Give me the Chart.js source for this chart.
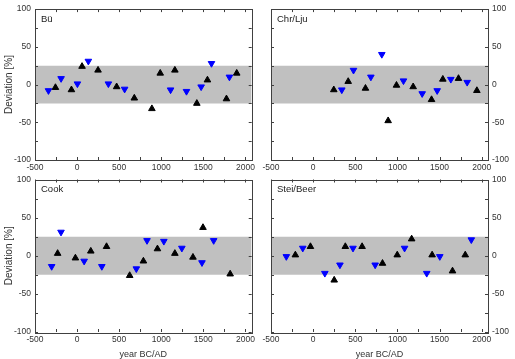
<!DOCTYPE html>
<html>
<head>
<meta charset="utf-8">
<script src="https://cdn.jsdelivr.net/npm/chart.js@4.4.0/dist/chart.umd.min.js"></script>
<style>
html, body { margin: 0; padding: 0; background: #fff; }
#wrap { position: relative; width: 515px; height: 359px; overflow: hidden; }
canvas { position: absolute; }
</style>
</head>
<body>
<div id="wrap">
    <canvas id="bu" width="258" height="175" style="left:0px;top:0px"></canvas>
    <canvas id="chr" width="257" height="175" style="left:258px;top:0px"></canvas>
    <canvas id="cook" width="258" height="195" style="left:0px;top:170px"></canvas>
    <canvas id="stei" width="257" height="195" style="left:258px;top:170px"></canvas>
</div>
<script>
// datos (triangulo negro = arriba, azul = abajo)
const buUpYear = [-257, -67, 59, 249, 470, 680, 889, 988, 1162, 1423, 1549, 1775, 1897];
const buUpDev = [-4, -7, 24, 19, -3, -18, -32, 15, 19, -25, 6, -19, 15];
const buDownYear = [-340, -190, 4, 134, 372, 565, 1111, 1300, 1474, 1597, 1810];
const buDownDev = [-8, 8, 1, 31, 1, -6, -7, -9, -3, 28, 10];

const chrUpYear = [245, 416, 621, 890, 989, 1187, 1405, 1539, 1725, 1943];
const chrUpDev = [-7, 4, -5, -48, -1, -3, -20, 7, 8, -8];
const chrDownYear = [340, 479, 685, 815, 1072, 1294, 1472, 1634, 1828];
const chrDownDev = [-7, 19, 10, 40, 5, -12, -8, 7, 3];

const cookUpYear = [-231, -20, 163, 350, 625, 788, 955, 1162, 1377, 1496, 1819];
const cookUpDev = [3, -3, 6, 12, -26, -7, 9, 3, -2, 37, -24];
const cookDownYear = [-302, -191, 84, 294, 704, 831, 1031, 1245, 1484, 1623];
const cookDownDev = [-14, 31, -7, -14, -17, 20, 19, 10, -9, 20];

const steiUpYear = [-211, -32, 250, 382, 581, 823, 998, 1169, 1412, 1654, 1805];
const steiUpDev = [1, 12, -32, 12, 12, -10, 1, 22, 1, -20, 1];
const steiDownYear = [-318, -123, 139, 318, 473, 736, 1085, 1348, 1503, 1877];
const steiDownDev = [-1, 10, -23, -12, 10, -12, 10, -23, -1, 21];

const bandLimits = [25, -25];
const xRange = [-500, 2075];
const yRange = [-100, 100];

const FONT = "'Liberation Sans', Arial, sans-serif";
const AXIS_COLOR = '#404040';

function pts(xs, ys) {
    return xs.map((x, i) => ({ x: x, y: ys[i] }));
}

// marco y ticks hacia dentro
const frameTicks = {
    id: 'frameTicks',
    afterDatasetsDraw(chart) {
        const ctx = chart.ctx;
        const a = chart.chartArea;
        const xs = chart.scales.x, ys = chart.scales.y;
        ctx.save();
        ctx.strokeStyle = AXIS_COLOR;
        ctx.lineWidth = 1;
        ctx.beginPath();
        xs.ticks.forEach(t => {
            const px = Math.round(xs.getPixelForValue(t.value)) + 0.5;
            ctx.moveTo(px, a.bottom); ctx.lineTo(px, a.bottom - 3);
            ctx.moveTo(px, a.top); ctx.lineTo(px, a.top + 3);
        });
        ys.ticks.forEach(t => {
            const py = Math.round(ys.getPixelForValue(t.value)) + 0.5;
            ctx.moveTo(a.left, py); ctx.lineTo(a.left + 3, py);
            ctx.moveTo(a.right, py); ctx.lineTo(a.right - 3, py);
        });
        ctx.stroke();
        ctx.strokeRect(Math.round(a.left) + 0.5, Math.round(a.top) + 0.5,
            Math.round(a.right - a.left), Math.round(a.bottom - a.top));
        // nombre del panel
        const o = chart.options.plugins.frameTicks;
        ctx.fillStyle = '#222';
        ctx.font = '9.5px ' + FONT;
        ctx.textBaseline = 'middle';
        ctx.fillText(o.label, a.left + 6, a.top + 10);
        ctx.restore();
    }
};

function makePanel(id, label, upX, upY, downX, downY, opts) {
    const tickFont = { family: FONT, size: 8.5 };
    const config = {
        type: 'scatter',
        data: {
            datasets: [
                {
                    type: 'line',
                    data: [{ x: xRange[0], y: bandLimits[0] }, { x: xRange[1], y: bandLimits[0] }],
                    borderWidth: 0, pointRadius: 0, fill: false, order: 10,
                    backgroundColor: '#c0c0c0'
                },
                {
                    type: 'line',
                    data: [{ x: xRange[0], y: bandLimits[1] }, { x: xRange[1], y: bandLimits[1] }],
                    borderWidth: 0, pointRadius: 0, fill: '-1', order: 10,
                    backgroundColor: '#c0c0c0'
                },
                {
                    data: pts(upX, upY),
                    pointStyle: 'triangle', pointRadius: 3.8, borderWidth: 1,
                    backgroundColor: '#000', borderColor: '#000', order: 1
                },
                {
                    data: pts(downX, downY),
                    pointStyle: 'triangle', rotation: 180, pointRadius: 3.8, borderWidth: 1,
                    backgroundColor: '#0000ff', borderColor: '#0000ff', order: 1
                }
            ]
        },
        options: {
            responsive: false,
            animation: false,
            devicePixelRatio: 1,
            layout: { padding: opts.padding },
            plugins: {
                legend: { display: false },
                tooltip: { enabled: false },
                filler: { drawTime: 'beforeDatasetsDraw' },
                frameTicks: { label: label }
            },
            scales: {
                x: {
                    type: 'linear',
                    min: xRange[0], max: xRange[1],
                    grid: { display: false, drawTicks: false },
                    border: { display: false },
                    ticks: {
                        stepSize: 250, includeBounds: false, autoSkip: false, maxRotation: 0,
                        padding: 3, color: '#333', font: tickFont,
                        callback: v => (v % 500 === 0 ? v : '')
                    },
                    title: {
                        display: opts.xTitle,
                        text: 'year BC/AD',
                        color: '#333',
                        font: { family: FONT, size: 9 },
                        padding: { top: 0, bottom: 4.6 }
                    },
                    afterFit: s => { s.height = opts.xHeight; }
                },
                y: {
                    type: 'linear',
                    position: opts.ySide,
                    min: yRange[0], max: yRange[1],
                    grid: { display: false, drawTicks: false },
                    border: { display: false },
                    ticks: {
                        stepSize: 25, autoSkip: false,
                        padding: 4, color: '#333', font: tickFont,
                        callback: v => (v % 50 === 0 ? v : '')
                    },
                    title: {
                        display: opts.ySide === 'left',
                        text: 'Deviation [%]',
                        color: '#333',
                        font: { family: FONT, size: 10 },
                        padding: { top: 3.5, bottom: 0 }
                    },
                    afterFit: s => { s.width = opts.yWidth; }
                }
            }
        },
        plugins: [frameTicks]
    };
    return new Chart(document.getElementById(id), config);
}

makePanel('bu', 'Bü', buUpYear, buUpDev, buDownYear, buDownDev,
    { padding: { top: 7, right: 5 }, ySide: 'left', yWidth: 35, xHeight: 15, xTitle: false });
makePanel('chr', 'Chr/Lju', chrUpYear, chrUpDev, chrDownYear, chrDownDev,
    { padding: { top: 7, left: 13 }, ySide: 'right', yWidth: 27, xHeight: 15, xTitle: false });
makePanel('cook', 'Cook', cookUpYear, cookUpDev, cookDownYear, cookDownDev,
    { padding: { top: 9.5, right: 5 }, ySide: 'left', yWidth: 35, xHeight: 33, xTitle: true });
makePanel('stei', 'Stei/Beer', steiUpYear, steiUpDev, steiDownYear, steiDownDev,
    { padding: { top: 9.5, left: 13 }, ySide: 'right', yWidth: 27, xHeight: 33, xTitle: true });
</script>
</body>
</html>
